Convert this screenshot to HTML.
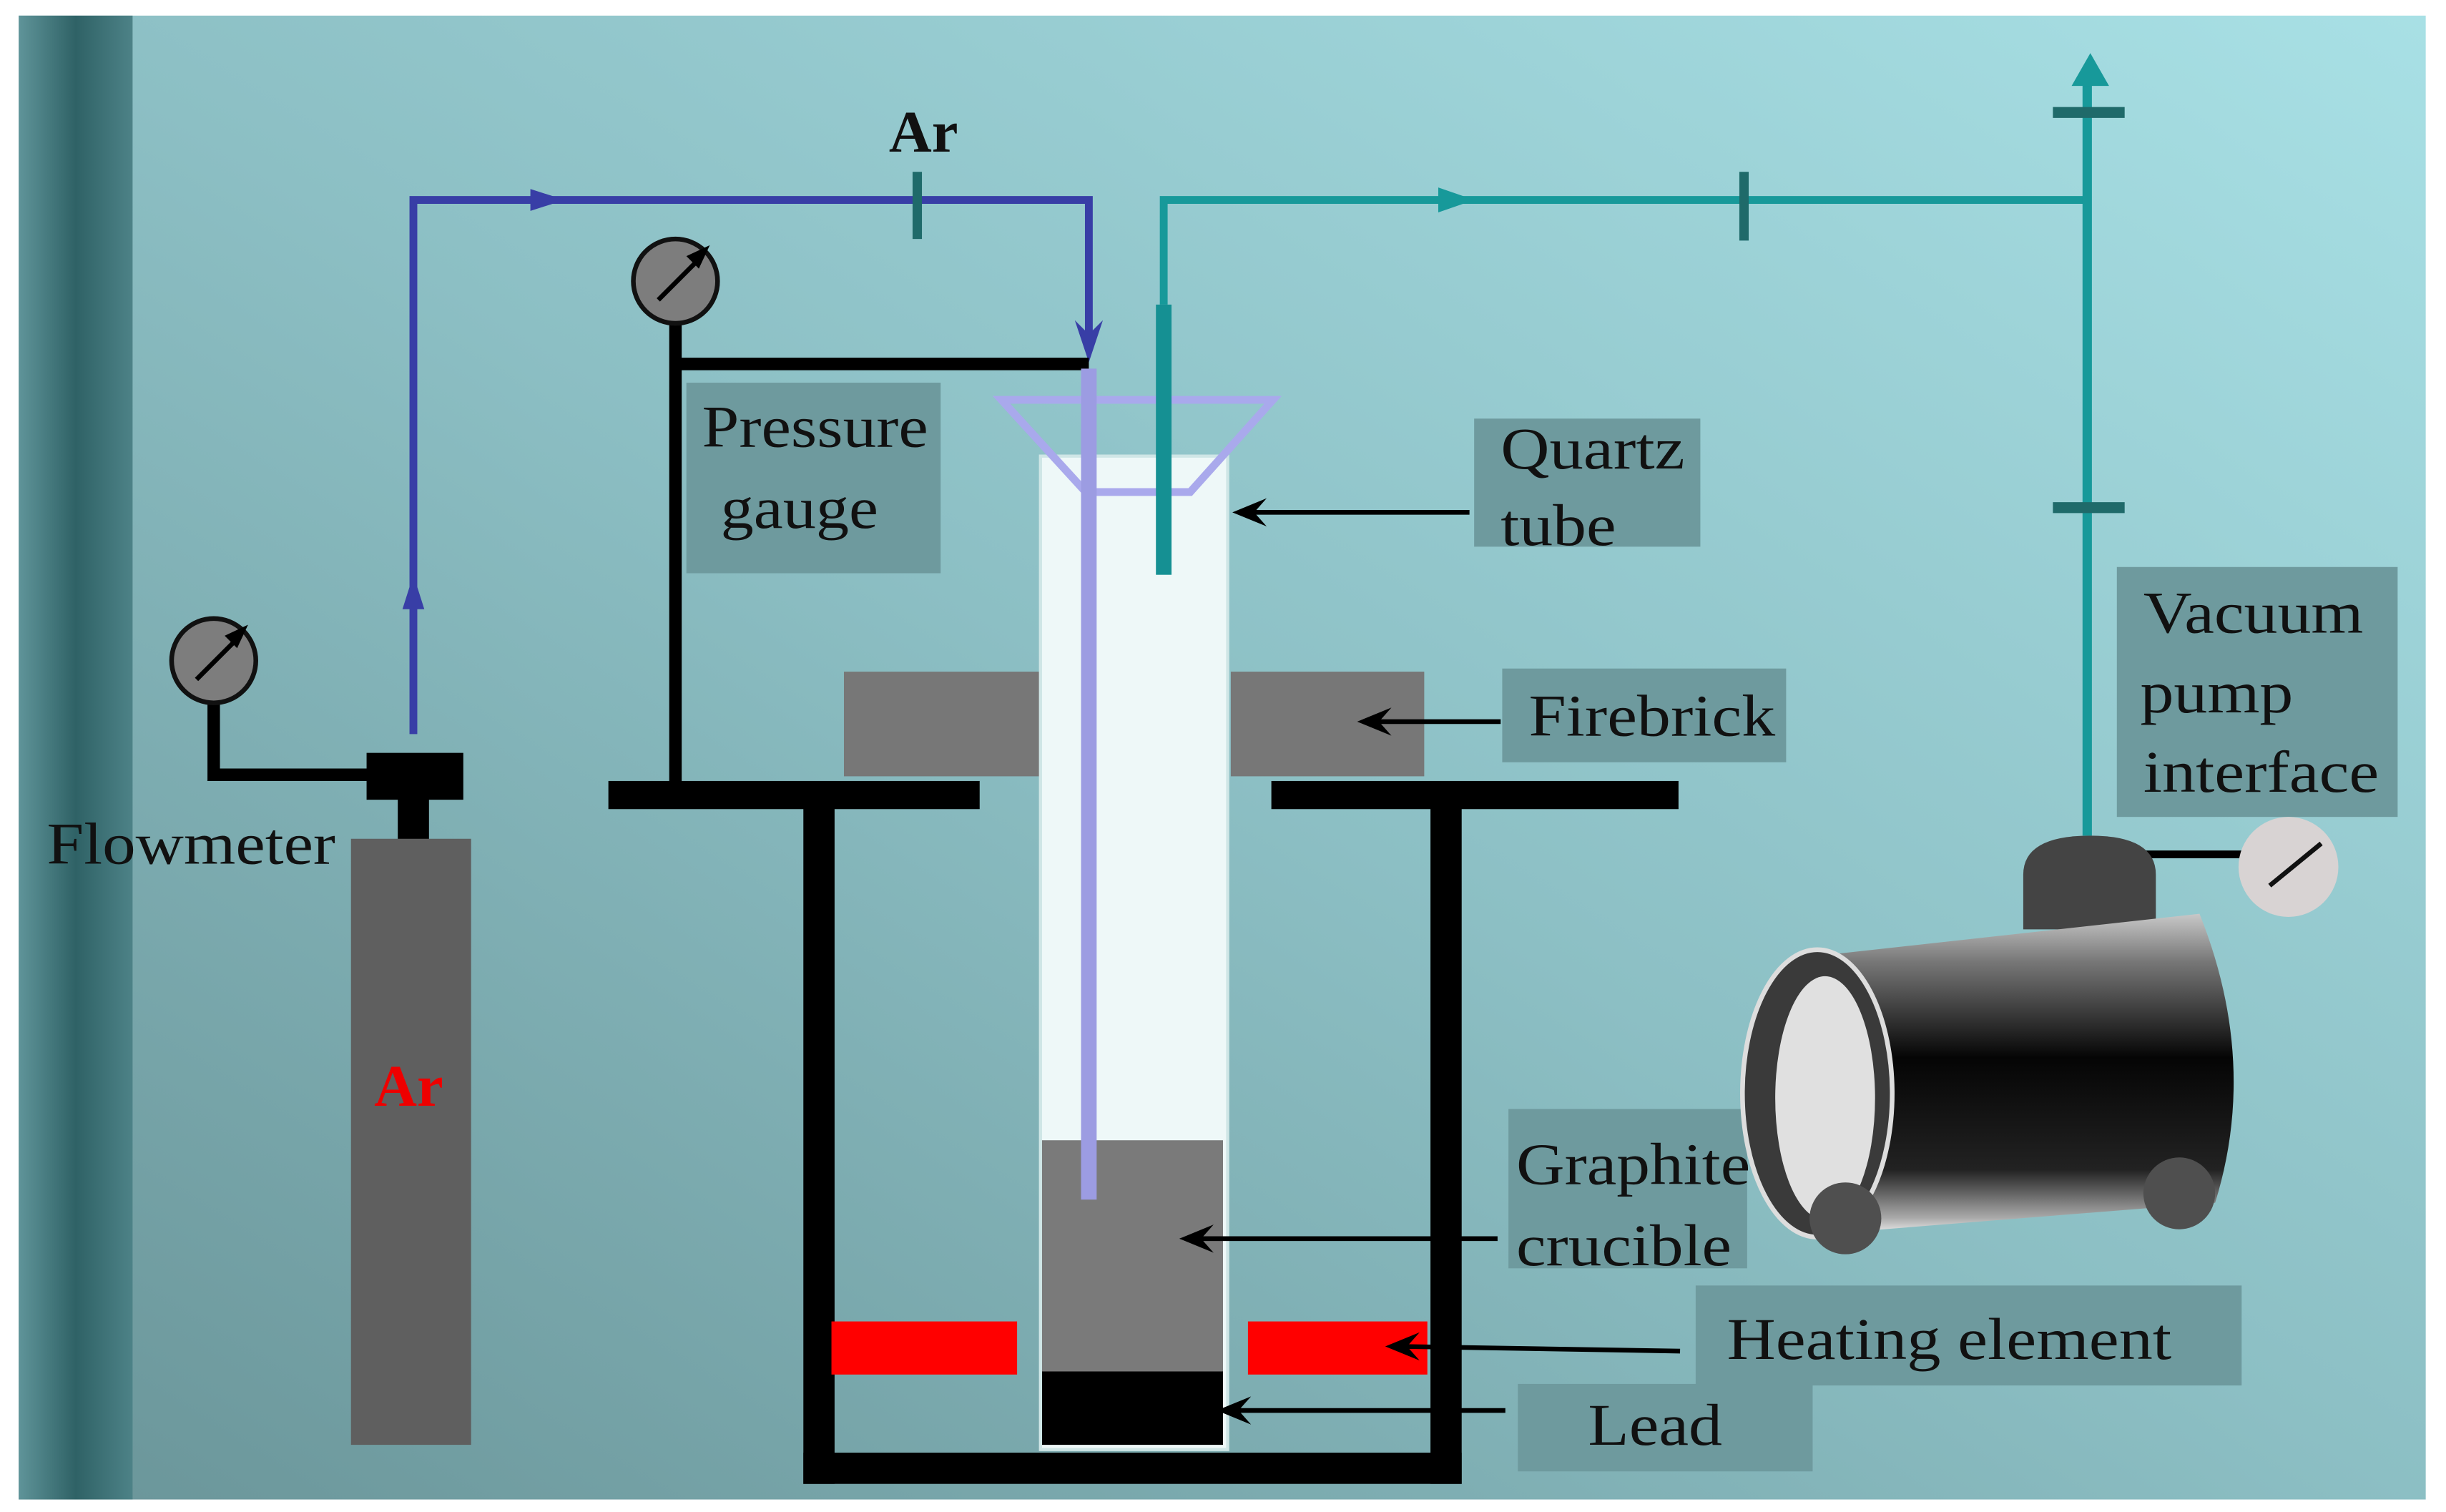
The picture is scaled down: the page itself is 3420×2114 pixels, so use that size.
<!DOCTYPE html>
<html><head><meta charset="utf-8"><style>html,body{margin:0;padding:0;background:#fff}svg{display:block}</style></head>
<body>
<svg width="3420" height="2114" viewBox="0 0 1568 968" preserveAspectRatio="none" xmlns="http://www.w3.org/2000/svg" font-family="Liberation Serif, serif">
<defs>
<linearGradient id="bg" x1="0" y1="1" x2="1" y2="0">
<stop offset="0" stop-color="#6a9599"/><stop offset="0.5" stop-color="#8cbfc4"/><stop offset="1" stop-color="#a8e0e5"/></linearGradient>
<linearGradient id="strip" x1="0" x2="1"><stop offset="0" stop-color="#5f9499"/><stop offset="0.5" stop-color="#2f6266"/><stop offset="1" stop-color="#4d8287"/></linearGradient>
<linearGradient id="cyl" x1="0" y1="0" x2="0" y2="1"><stop offset="0" stop-color="#c8c8c8"/><stop offset="0.15" stop-color="#777"/><stop offset="0.45" stop-color="#050505"/><stop offset="0.8" stop-color="#222"/><stop offset="0.95" stop-color="#aaa"/><stop offset="1" stop-color="#eee"/></linearGradient>
</defs>
<rect x="0" y="0" width="1568" height="968" fill="#fff"/>
<rect x="12" y="10" width="1543" height="950" fill="url(#bg)"/>
<rect x="12" y="10" width="73" height="950" fill="url(#strip)"/>

<polyline points="265,470 265,128 698,128 698,222" fill="none" stroke="#383ea6" stroke-width="5"/>
<polygon points="340,121 362,128 340,135" fill="#383ea6"/>
<polygon points="258,390 265,368 272,390" fill="#383ea6"/>
<polygon points="689,205 698,232 707,205 698,214" fill="#383ea6"/>
<line x1="588" y1="110" x2="588" y2="153" stroke="#1f6a6a" stroke-width="6"/>
<text x="592" y="97" font-size="38" font-weight="bold" text-anchor="middle" fill="#111">Ar</text>

<polyline points="746,195 746,128 1338,128" fill="none" stroke="#17999a" stroke-width="5"/>
<line x1="1338" y1="50" x2="1338" y2="535" stroke="#17999a" stroke-width="6"/>
<polygon points="1328,55 1340,34 1352,55" fill="#17999a"/>
<line x1="1316" y1="72" x2="1362" y2="72" stroke="#1f6a6a" stroke-width="7"/>
<line x1="1316" y1="325" x2="1362" y2="325" stroke="#1f6a6a" stroke-width="7"/>
<line x1="1118" y1="110" x2="1118" y2="154" stroke="#1f6a6a" stroke-width="6"/>
<polygon points="922,120 945,128 922,136" fill="#17999a"/>

<line x1="433" y1="205" x2="433" y2="505" stroke="#000" stroke-width="8"/>
<line x1="433" y1="233" x2="698" y2="233" stroke="#000" stroke-width="8"/>
<circle cx="433" cy="180" r="27" fill="#7d7d7d" stroke="#111" stroke-width="3"/>
<line x1="422" y1="192" x2="450" y2="164" stroke="#000" stroke-width="3"/>
<polygon points="455,157 440,164 448,172" fill="#000"/>

<polyline points="137,440 137,496 240,496" fill="none" stroke="#000" stroke-width="8"/>
<circle cx="137" cy="423" r="27" fill="#7d7d7d" stroke="#111" stroke-width="3"/>
<line x1="126" y1="435" x2="154" y2="407" stroke="#000" stroke-width="3"/>
<polygon points="159,400 144,407 152,415" fill="#000"/>
<rect x="235" y="482" width="62" height="30" fill="#000"/>
<rect x="255" y="510" width="20" height="28" fill="#000"/>
<rect x="225" y="537" width="77" height="388" fill="#5f5f5f"/>
<text x="262" y="708" font-size="38" font-weight="bold" fill="#e00" text-anchor="middle">Ar</text>
<text x="30" y="553" font-size="38" fill="#111" textLength="185" lengthAdjust="spacingAndGlyphs">Flowmeter</text>

<rect x="390" y="500" width="238" height="18" fill="#000"/>
<rect x="815" y="500" width="261" height="18" fill="#000"/>
<rect x="515" y="515" width="20" height="435" fill="#000"/>
<rect x="917" y="515" width="20" height="435" fill="#000"/>
<rect x="515" y="930" width="422" height="20" fill="#000"/>
<rect x="541" y="430" width="126" height="67" fill="#777"/>
<rect x="789" y="430" width="124" height="67" fill="#777"/>
<rect x="667" y="292" width="120" height="636" fill="#eef8f8" stroke="#cfe6e6" stroke-width="2"/>
<rect x="668" y="730" width="116" height="148" fill="#7a7a7a"/>
<rect x="668" y="878" width="116" height="47" fill="#000"/>
<rect x="533" y="846" width="119" height="34" fill="#f00"/>
<rect x="800" y="846" width="115" height="34" fill="#f00"/>
<polygon points="642,256 816,256 763,315 696,315" fill="none" stroke="#a9a9ec" stroke-width="5"/>
<rect x="693" y="236" width="10" height="532" fill="#9c9ce2"/>
<rect x="741" y="195" width="10" height="173" fill="#159093"/>

<g fill="#6e9a9e">
<rect x="440" y="245" width="163" height="122"/>
<rect x="945" y="268" width="145" height="82"/>
<rect x="963" y="428" width="182" height="60"/>
<rect x="1357" y="363" width="180" height="160"/>
<rect x="967" y="710" width="153" height="102"/>
<rect x="1087" y="823" width="350" height="64"/>
<rect x="973" y="886" width="189" height="56"/>
</g>
<g font-size="38" fill="#111" lengthAdjust="spacingAndGlyphs">
<text x="450" y="286" textLength="145" lengthAdjust="spacingAndGlyphs">Pressure</text>
<text x="462" y="338" textLength="101" lengthAdjust="spacingAndGlyphs">gauge</text>
<text x="962" y="300" textLength="118" lengthAdjust="spacingAndGlyphs">Quartz</text>
<text x="962" y="349" textLength="74" lengthAdjust="spacingAndGlyphs">tube</text>
<text x="980" y="471" textLength="158" lengthAdjust="spacingAndGlyphs">Firebrick</text>
<text x="1374" y="405" textLength="141" lengthAdjust="spacingAndGlyphs">Vacuum</text>
<text x="1372" y="456" textLength="98" lengthAdjust="spacingAndGlyphs">pump</text>
<text x="1374" y="507" textLength="151" lengthAdjust="spacingAndGlyphs">interface</text>
<text x="972" y="758" textLength="150" lengthAdjust="spacingAndGlyphs">Graphite</text>
<text x="972" y="810" textLength="138" lengthAdjust="spacingAndGlyphs">crucible</text>
<text x="1107" y="870" textLength="285" lengthAdjust="spacingAndGlyphs">Heating element</text>
<text x="1018" y="925" textLength="86" lengthAdjust="spacingAndGlyphs">Lead</text>
</g>
<g stroke="#000" stroke-width="3">
<line x1="942" y1="328" x2="800" y2="328"/>
<line x1="962" y1="462" x2="880" y2="462"/>
<line x1="960" y1="793" x2="766" y2="793"/>
<line x1="1077" y1="865" x2="898" y2="862"/>
<line x1="965" y1="903" x2="790" y2="903"/>
</g>
<g fill="#000">
<polygon points="790,328 812,319 804,328 812,337"/>
<polygon points="870,462 892,453 884,462 892,471"/>
<polygon points="756,793 778,784 770,793 778,802"/>
<polygon points="888,862 910,853 902,862 910,871"/>
<polygon points="780,903 802,894 794,903 802,912"/>
</g>

<line x1="1375" y1="547" x2="1442" y2="547" stroke="#000" stroke-width="5"/>
<circle cx="1467" cy="555" r="32" fill="#d8d3d3"/>
<line x1="1455" y1="567" x2="1488" y2="540" stroke="#111" stroke-width="3"/>
<path d="M1297,595 L1297,560 Q1297,535 1340,535 Q1382,535 1382,560 L1382,595 Z" fill="#444"/>
<path d="M1165,612 L1410,585 Q1448,680 1420,770 L1170,790 Z" fill="url(#cyl)"/>
<ellipse cx="1165" cy="700" rx="48" ry="92" fill="#3a3a3a" stroke="#ddd" stroke-width="3"/>
<ellipse cx="1170" cy="703" rx="32" ry="78" fill="#e0e0e0"/>
<circle cx="1183" cy="780" r="23" fill="#4f4f4f"/>
<circle cx="1397" cy="764" r="23" fill="#4f4f4f"/>
</svg>
</body></html>
